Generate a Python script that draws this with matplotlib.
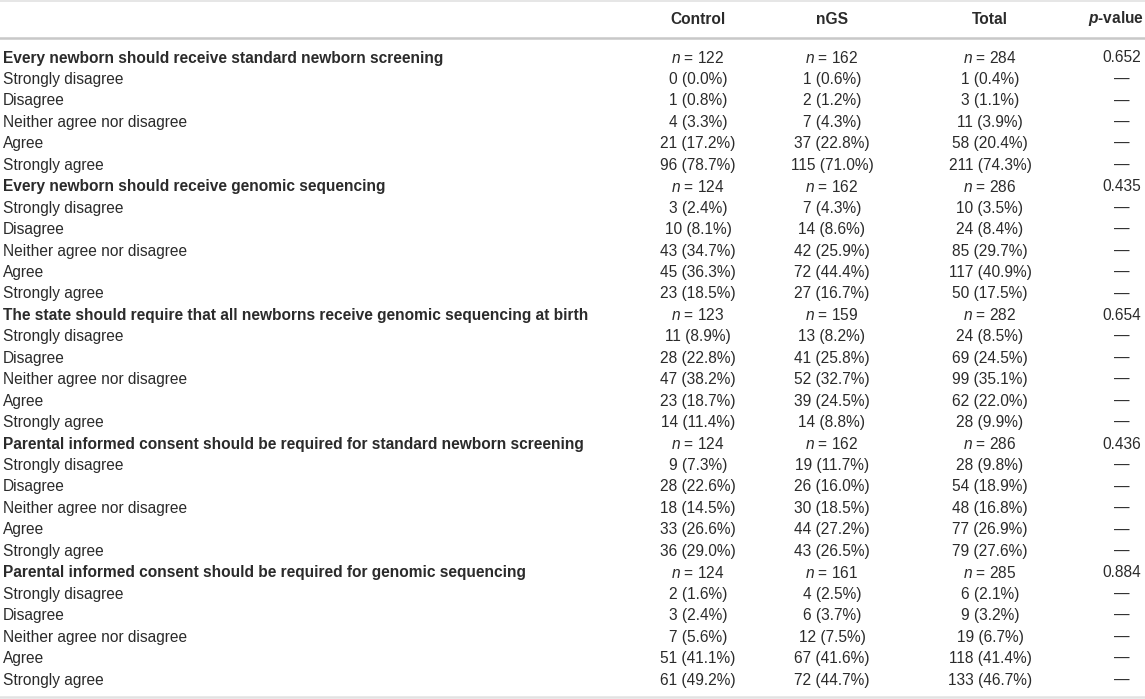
import matplotlib
matplotlib.use("Agg")
import matplotlib.pyplot as plt

# table content
groups = ["Control", "nGS", "Total"]
questions = [
    "Every newborn should receive standard newborn screening",
    "Every newborn should receive genomic sequencing",
    "The state should require that all newborns receive genomic sequencing at birth",
    "Parental informed consent should be required for standard newborn screening",
    "Parental informed consent should be required for genomic sequencing",
]
answers = ["Strongly disagree", "Disagree", "Neither agree nor disagree", "Agree", "Strongly agree"]

n_control = [122, 124, 123, 124, 124]
n_ngs = [162, 162, 159, 162, 161]
n_total = [284, 286, 282, 286, 285]
p_values = ["0.652", "0.435", "0.654", "0.436", "0.884"]

# counts and percentages, one row per question, one value per answer
control_cnt = [[0, 1, 4, 21, 96], [3, 10, 43, 45, 23], [11, 28, 47, 23, 14],
               [9, 28, 18, 33, 36], [2, 3, 7, 51, 61]]
control_pct = [[0.0, 0.8, 3.3, 17.2, 78.7], [2.4, 8.1, 34.7, 36.3, 18.5], [8.9, 22.8, 38.2, 18.7, 11.4],
               [7.3, 22.6, 14.5, 26.6, 29.0], [1.6, 2.4, 5.6, 41.1, 49.2]]
ngs_cnt = [[1, 2, 7, 37, 115], [7, 14, 42, 72, 27], [13, 41, 52, 39, 14],
           [19, 26, 30, 44, 43], [4, 6, 12, 67, 72]]
ngs_pct = [[0.6, 1.2, 4.3, 22.8, 71.0], [4.3, 8.6, 25.9, 44.4, 16.7], [8.2, 25.8, 32.7, 24.5, 8.8],
           [11.7, 16.0, 18.5, 27.2, 26.5], [2.5, 3.7, 7.5, 41.6, 44.7]]
total_cnt = [[1, 3, 11, 58, 211], [10, 24, 85, 117, 50], [24, 69, 99, 62, 28],
             [28, 54, 48, 77, 79], [6, 9, 19, 118, 133]]
total_pct = [[0.4, 1.1, 3.9, 20.4, 74.3], [3.5, 8.4, 29.7, 40.9, 17.5], [8.5, 24.5, 35.1, 22.0, 9.9],
             [9.8, 18.9, 16.8, 26.9, 27.6], [2.1, 3.2, 6.7, 41.4, 46.7]]

plt.rcParams["font.family"] = ["Liberation Sans", "DejaVu Sans"]
plt.rcParams["mathtext.fontset"] = "custom"
plt.rcParams["mathtext.rm"] = "Liberation Sans"
plt.rcParams["mathtext.it"] = "Liberation Sans:italic"
plt.rcParams["mathtext.bf"] = "Liberation Sans:bold"
plt.rcParams["mathtext.bfit"] = "Liberation Sans:italic:bold"

W, H = 1145, 699
fig = plt.figure(figsize=(W / 100, H / 100), dpi=100)
ax = fig.add_axes([0, 0, 1, 1])
ax.set_xlim(0, W)
ax.set_ylim(H, 0)
ax.axis("off")

txt = "#2b2b2b"
fs = 11.2

col_x = [698, 832, 990]
p_x = 1122

# rules
ax.plot([0, W], [1, 1], color="#e2e2e2", lw=1.2)
ax.plot([0, W], [38, 38], color="#c8c8c8", lw=1.8)
ax.plot([0, W], [697, 697], color="#e2e2e2", lw=1.8)

# header
for x, g in zip(col_x, groups):
    ax.text(x, 19, g, ha="center", va="center", fontsize=fs, fontweight="bold", color=txt)
ax.text(1144, 19, r"$\mathbfit{p}$-value", ha="right", va="center", fontsize=fs,
        fontweight="bold", color=txt)

y0 = 58
dy = 21.45
row = 0
for qi, q in enumerate(questions):
    y = y0 + row * dy
    ax.text(3, y, q, ha="left", va="center", fontsize=fs, fontweight="bold", color=txt)
    for x, nv in zip(col_x, [n_control[qi], n_ngs[qi], n_total[qi]]):
        ax.text(x, y, f"$\\it{{n}}$ = {nv}", ha="center", va="center", fontsize=fs, color=txt)
    ax.text(p_x, y, p_values[qi], ha="center", va="center", fontsize=fs, color=txt)
    row += 1
    for ai, a in enumerate(answers):
        y = y0 + row * dy
        ax.text(3, y, a, ha="left", va="center", fontsize=fs, color=txt)
        cells = [(control_cnt, control_pct), (ngs_cnt, ngs_pct), (total_cnt, total_pct)]
        for x, (cnt, pct) in zip(col_x, cells):
            ax.text(x, y, f"{cnt[qi][ai]} ({pct[qi][ai]:.1f}%)", ha="center", va="center",
                    fontsize=fs, color=txt)
        ax.text(p_x, y, "\u2014", ha="center", va="center", fontsize=fs, color=txt)
        row += 1

fig.savefig("out.png", dpi=100)
